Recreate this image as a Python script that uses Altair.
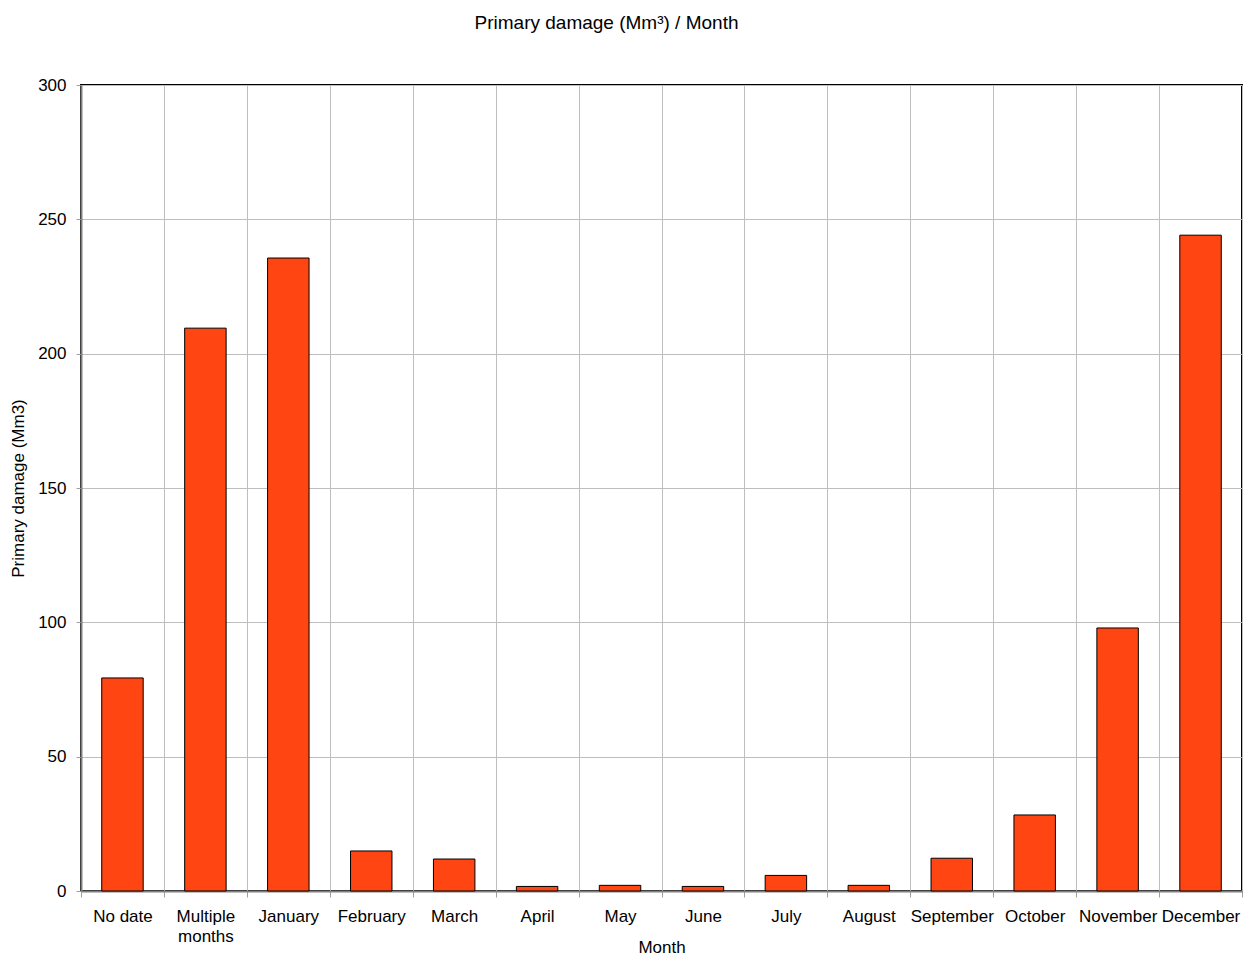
import altair as alt
import pandas as pd

months = ["No date", "Multiple months", "January", "February", "March", "April",
          "May", "June", "July", "August", "September", "October", "November", "December"]
damage = [79.3, 209.5, 235.6, 14.9, 11.9, 1.7, 2.1, 1.7, 5.8, 2.1, 12.2, 28.3, 97.9, 244.1]
y_ticks = [0, 50, 100, 150, 200, 250, 300]

df = pd.DataFrame({"Month": months, "Damage": damage})

FONT = "Liberation Sans"

bars = alt.Chart(df).mark_bar(
    width=alt.RelativeBandSize(0.5), color="#FF4512", stroke="#000000", strokeWidth=1
).encode(
    x=alt.X(
        "Month:N", sort=months,
        scale=alt.Scale(paddingInner=0, paddingOuter=0),
        axis=alt.Axis(
            title="Month", labelAngle=0, tickBand="extent", grid=True,
            gridColor="#BEBEBE", gridWidth=1, domainColor="#808080", domainWidth=2,
            tickColor="#A0A0A0", tickSize=6, labelPadding=11, labelOverlap=False,
            labelBound=False, labelFont=FONT, labelFontSize=17, labelColor="#000000",
            labelLineHeight=20,
            labelExpr="datum.label == 'Multiple months' ? ['Multiple', 'months'] : datum.label",
            titleFont=FONT, titleFontSize=17, titleFontWeight="normal", titleColor="#000000",
            titleY=48, titleBaseline="top",
        ),
    ),
    y=alt.Y(
        "Damage:Q",
        scale=alt.Scale(domain=[0, 300], nice=False),
        axis=alt.Axis(
            title="Primary damage (Mm3)", values=y_ticks, grid=True,
            gridColor="#BEBEBE", gridWidth=1, domainColor="#808080", domainWidth=2,
            tickColor="#A0A0A0", tickSize=5, labelPadding=10, labelFont=FONT,
            labelFontSize=17, labelColor="#000000",
            titleFont=FONT, titleFontSize=17, titleFontWeight="normal", titleColor="#000000",
            titlePadding=10,
        ),
    ),
).properties(
    width=1161,
    height=806,
    autosize="none",
    padding={"left": 73, "top": 77, "right": 1, "bottom": 69},
    title=alt.TitleParams(
        "Primary damage (Mm³) / Month", font=FONT, fontSize=19, fontWeight="normal",
        color="#000000", anchor="middle", dx=-55, offset=43,
    ),
).configure_view(stroke="#000000", strokeWidth=2)

bars.save("out.html", embed_options={"renderer": "svg", "actions": False})
